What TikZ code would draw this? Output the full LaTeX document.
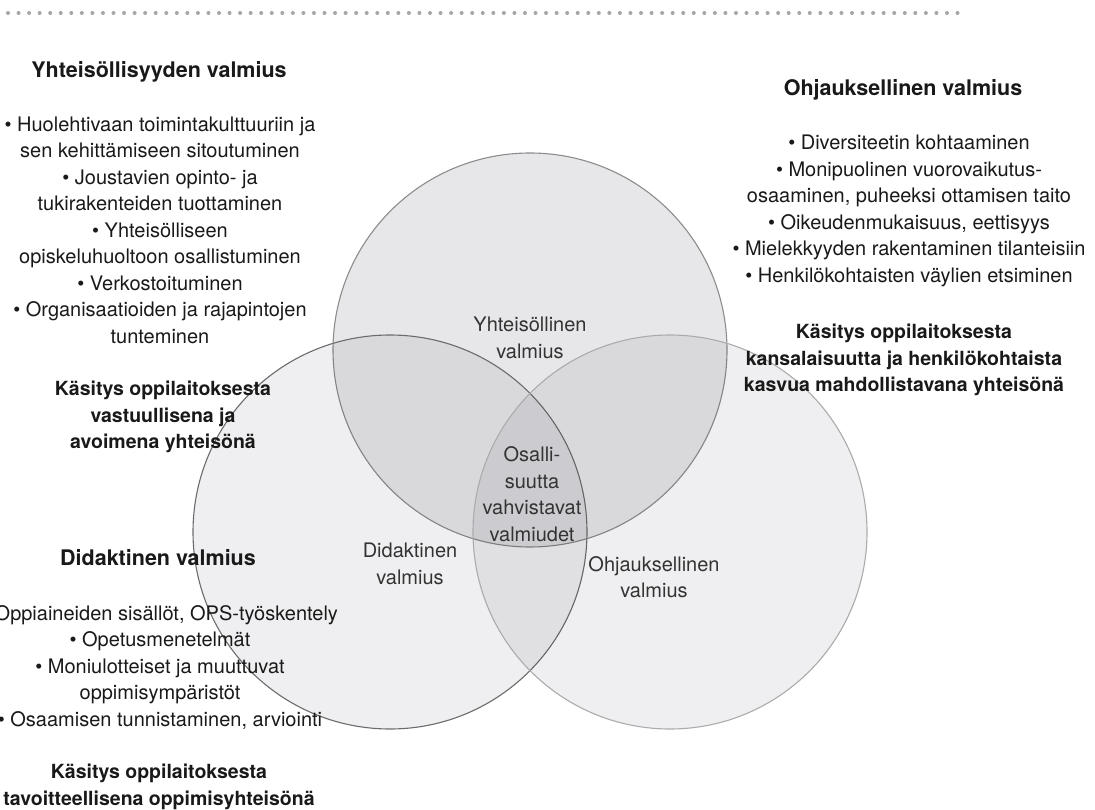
\documentclass[tikz,border=0pt]{standalone}
\usepackage{fontspec}
\setmainfont{TeX Gyre Heros}
\usetikzlibrary{positioning}
\definecolor{ringfill}{RGB}{30,30,50}
\tikzstyle{ring}=[circle, minimum size=394pt, inner sep=0pt, line width=1.1pt, fill=ringfill]
\tikzstyle{plain}=[align=center, inner sep=0pt, text=black!90, font=\fontsize{20}{26.5}\selectfont]
\tikzstyle{strong}=[plain, font=\bfseries\fontsize{19.5}{26.8}\selectfont]
\tikzstyle{heading}=[plain, font=\bfseries\fontsize{21.5}{26}\selectfont]
\tikzstyle{inring}=[plain, text=black!80]

\begin{document}
\begin{tikzpicture}[x=1pt, y=-1pt]
\useasboundingbox (0,0) rectangle (1095,810);

% dotted rule on top
\coordinate (dotsL) at (8,13); \coordinate (dotsR) at (968,13);
\draw [gray!70, line width=4pt, line cap=round, dash pattern=on 0pt off 10.55pt] (dotsL) -- (dotsR);

% the three circles
\node[ring, draw=black!45, fill opacity=0.105] (yht) at (530,350) {};
\node[ring, draw=black!58, fill opacity=0.07] (did) at (390,532) {};
\node[ring, draw=black!33, fill opacity=0.07] (ohj) at (670,532) {};

\node[inring] (yhtlab) at (530,338) {Yhteisöllinen\\valmius};
\node[inring] (didlab) at (410,564) {Didaktinen\\valmius};
\node[inring] (ohjlab) at (654,577) {Ohjauksellinen\\valmius};
\node[inring] (core) at (532,494) {Osalli-\\suutta\\vahvistavat\\valmiudet};

% texts round the circles
\node[heading] (yhthead) at (159,72) {Yhteisöllisyyden valmius};
\node[plain] (yhtlist) at (160,230) {• Huolehtivaan toimintakulttuuriin ja\\sen kehittämiseen sitoutuminen\\• Joustavien opinto- ja\\tukirakenteiden tuottaminen\\• Yhteisölliseen\\opiskeluhuoltoon osallistuminen\\• Verkostoituminen\\• Organisaatioiden ja rajapintojen\\tunteminen};
\node[strong] (yhtview) at (163,417) {Käsitys oppilaitoksesta\\vastuullisena ja\\avoimena yhteisönä};

\node[heading] (ohjhead) at (903,90) {Ohjauksellinen valmius};
\node[plain] (ohjlist) at (909,211) {• Diversiteetin kohtaaminen\\• Monipuolinen vuorovaikutus-\\osaaminen, puheeksi ottamisen taito\\• Oikeudenmukaisuus, eettisyys\\• Mielekkyyden rakentaminen tilanteisiin\\• Henkilökohtaisten väylien etsiminen};
\node[strong] (ohjview) at (904,360) {Käsitys oppilaitoksesta\\kansalaisuutta ja henkilökohtaista\\kasvua mahdollistavana yhteisönä};

\node[heading] (didhead) at (158,558) {Didaktinen valmius};
\node[plain] (didlist) at (160,667) {• Oppiaineiden sisällöt, OPS-työskentely\\• Opetusmenetelmät\\• Moniulotteiset ja muuttuvat\\oppimisympäristöt\\• Osaamisen tunnistaminen, arviointi};
\node[strong] (didview) at (159,787) {Käsitys oppilaitoksesta\\tavoitteellisena oppimisyhteisönä};
\end{tikzpicture}
\end{document}
